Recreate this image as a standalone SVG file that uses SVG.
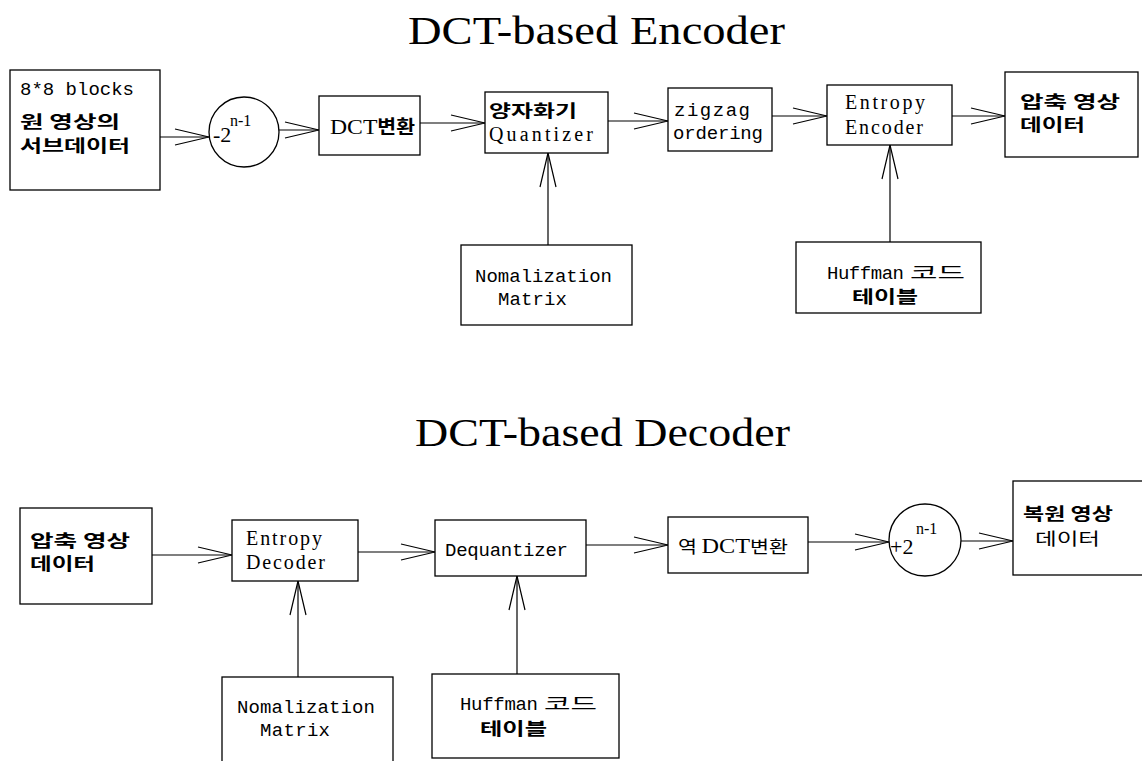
<svg xmlns="http://www.w3.org/2000/svg" width="1142" height="761" viewBox="0 0 1142 761">
<style>
.box{fill:#fff;stroke:#000;stroke-width:1.3}
.c{fill:none;stroke:#000;stroke-width:1.2}
.t{font-family:"Liberation Serif","Noto Sans CJK KR",serif;font-size:39px;fill:#000}
.l{font-family:"Liberation Serif","Noto Sans CJK KR",serif;font-size:20px;fill:#000}
.m{font-family:"Liberation Mono","Noto Sans CJK KR",monospace;font-size:19px;fill:#000}
.k{font-family:"Noto Sans CJK KR",sans-serif;font-size:17px;font-weight:700;fill:#000}
.kn{font-family:"Noto Sans CJK KR",sans-serif;font-size:17px;font-weight:400;fill:#000}
.s{font-family:"Liberation Serif",serif;font-size:16px;fill:#000}
</style>
<defs>
<marker id="a" viewBox="-36 -10 38 20" markerWidth="38" markerHeight="20" refX="0" refY="0" orient="auto" markerUnits="userSpaceOnUse">
<path d="M-34,-8 L0,0 L-34,8" fill="none" stroke="#000" stroke-width="1.2"/>
</marker>
</defs>
<rect width="1142" height="761" fill="#fff"/>

<text class="t" x="408" y="44" textLength="377" lengthAdjust="spacingAndGlyphs">DCT-based  Encoder</text>
<text class="t" x="415" y="446" textLength="375" lengthAdjust="spacingAndGlyphs">DCT-based  Decoder</text>

<g id="connectors">
<line class="c" x1="160" y1="137" x2="209" y2="137" marker-end="url(#a)"/>
<line class="c" x1="279" y1="130" x2="319" y2="130" marker-end="url(#a)"/>
<line class="c" x1="420" y1="123" x2="485" y2="123" marker-end="url(#a)"/>
<line class="c" x1="608" y1="121" x2="668" y2="121" marker-end="url(#a)"/>
<line class="c" x1="772" y1="116" x2="827" y2="116" marker-end="url(#a)"/>
<line class="c" x1="952" y1="116" x2="1005" y2="116" marker-end="url(#a)"/>
<line class="c" x1="548" y1="245" x2="548" y2="153" marker-end="url(#a)"/>
<line class="c" x1="890" y1="242" x2="890" y2="145" marker-end="url(#a)"/>
<line class="c" x1="152" y1="555" x2="232" y2="555" marker-end="url(#a)"/>
<line class="c" x1="358" y1="552" x2="435" y2="552" marker-end="url(#a)"/>
<line class="c" x1="586" y1="545" x2="668" y2="545" marker-end="url(#a)"/>
<line class="c" x1="808" y1="542" x2="889" y2="542" marker-end="url(#a)"/>
<line class="c" x1="961" y1="541" x2="1013" y2="541" marker-end="url(#a)"/>
<line class="c" x1="298" y1="677" x2="298" y2="581" marker-end="url(#a)"/>
<line class="c" x1="517" y1="674" x2="517" y2="576" marker-end="url(#a)"/>
</g>

<g id="enc-input">
<rect class="box" x="10" y="70" width="150" height="120"/>
<text class="m" x="20" y="95" textLength="114">8*8 blocks</text>
<text class="k" x="20" y="128" textLength="100" lengthAdjust="spacingAndGlyphs">원 영상의</text>
<text class="k" x="20" y="152" textLength="110" lengthAdjust="spacingAndGlyphs">서브데이터</text>
</g>
<g id="enc-sub">
<circle class="box" cx="244" cy="132" r="35"/>
<text class="l" x="213" y="142" style="font-size:22px">-2</text>
<text class="s" x="230" y="126">n-1</text>
</g>
<g id="enc-dct">
<rect class="box" x="319" y="96" width="101" height="59"/>
<text class="l" x="330" y="134" style="font-size:22px" textLength="85" lengthAdjust="spacingAndGlyphs">DCT<tspan class="k" style="font-size:19px">변환</tspan></text>
</g>
<g id="enc-quant">
<rect class="box" x="485" y="92" width="123" height="61"/>
<text class="k" x="489" y="117" textLength="88" lengthAdjust="spacingAndGlyphs">양자화기</text>
<text class="l" x="489" y="141" textLength="104">Quantizer</text>
</g>
<g id="enc-zigzag">
<rect class="box" x="668" y="88" width="104" height="63"/>
<text class="m" x="674" y="116" textLength="76">zigzag</text>
<text class="m" x="673" y="139" textLength="90">ordering</text>
</g>
<g id="enc-entropy">
<rect class="box" x="827" y="85" width="125" height="60"/>
<text class="l" x="845" y="109" textLength="80">Entropy</text>
<text class="l" x="845" y="134" textLength="78">Encoder</text>
</g>
<g id="enc-output">
<rect class="box" x="1005" y="72" width="133" height="85"/>
<text class="k" x="1020" y="108" textLength="100" lengthAdjust="spacingAndGlyphs">압축 영상</text>
<text class="k" x="1020" y="131" textLength="65" lengthAdjust="spacingAndGlyphs">데이터</text>
</g>
<g id="enc-norm">
<rect class="box" x="461" y="245" width="171" height="80"/>
<text class="m" x="475" y="282" textLength="137">Nomalization</text>
<text class="m" x="498" y="305" textLength="69">Matrix</text>
</g>
<g id="enc-huff">
<rect class="box" x="796" y="242" width="185" height="71"/>
<text class="m" x="827" y="279" textLength="77">Huffman</text>
<text class="kn" x="910" y="279" textLength="55" lengthAdjust="spacingAndGlyphs">코드</text>
<text class="k" x="852" y="303" textLength="66" lengthAdjust="spacingAndGlyphs">테이블</text>
</g>

<g id="dec-input">
<rect class="box" x="20" y="508" width="132" height="96"/>
<text class="k" x="30" y="547" textLength="100" lengthAdjust="spacingAndGlyphs">압축 영상</text>
<text class="k" x="30" y="570" textLength="65" lengthAdjust="spacingAndGlyphs">데이터</text>
</g>
<g id="dec-entropy">
<rect class="box" x="232" y="520" width="126" height="61"/>
<text class="l" x="246" y="545" textLength="76">Entropy</text>
<text class="l" x="246" y="569" textLength="79">Decoder</text>
</g>
<g id="dec-dequant">
<rect class="box" x="435" y="520" width="151" height="56"/>
<text class="m" x="445" y="556" textLength="123">Dequantizer</text>
</g>
<g id="dec-idct">
<rect class="box" x="668" y="517" width="140" height="56"/>
<text class="kn" x="678" y="553" textLength="110" lengthAdjust="spacingAndGlyphs">역 <tspan class="l">DCT</tspan>변환</text>
</g>
<g id="dec-add">
<circle class="box" cx="925" cy="540" r="36"/>
<text class="l" x="890" y="554" style="font-size:22px">+2</text>
<text class="s" x="916" y="534">n-1</text>
</g>
<g id="dec-output">
<rect class="box" x="1013" y="481" width="135" height="94"/>
<text class="k" x="1023" y="520" textLength="90" lengthAdjust="spacingAndGlyphs">복원 영상</text>
<text class="kn" x="1035" y="545" textLength="65" lengthAdjust="spacingAndGlyphs">데이터</text>
</g>
<g id="dec-norm">
<rect class="box" x="222" y="677" width="171" height="90"/>
<text class="m" x="237" y="713" textLength="138">Nomalization</text>
<text class="m" x="260" y="736" textLength="70">Matrix</text>
</g>
<g id="dec-huff">
<rect class="box" x="432" y="674" width="187" height="84"/>
<text class="m" x="460" y="710" textLength="78">Huffman</text>
<text class="kn" x="544" y="710" textLength="53" lengthAdjust="spacingAndGlyphs">코드</text>
<text class="k" x="480" y="735" textLength="67" lengthAdjust="spacingAndGlyphs">테이블</text>
</g>
</svg>
